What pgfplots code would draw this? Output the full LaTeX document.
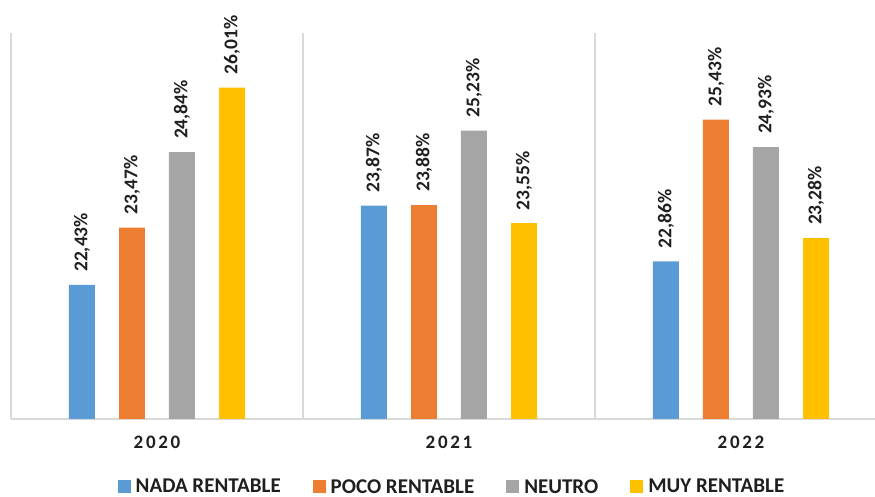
\documentclass[border=0pt]{standalone}
\usepackage{pgfplots}
\pgfplotsset{compat=1.18}
\usepackage{fontspec}
\setmainfont{Carlito}
\definecolor{cblue}{HTML}{5B9BD5}
\definecolor{corange}{HTML}{ED7D31}
\definecolor{cgray}{HTML}{A5A5A5}
\definecolor{cyellow}{HTML}{FFC000}
\definecolor{gridgray}{HTML}{D9D9D9}
\begin{document}
\begin{tikzpicture}[x=1pt,y=1pt]
\useasboundingbox (0,0) rectangle (875,497);
\begin{axis}[
  at={(11pt,78pt)}, anchor=south west,
  scale only axis, width=864pt, height=386pt,
  xmin=-0.5, xmax=2.459, ymin=20, ymax=27,
  clip=false,
  hide y axis,
  axis x line*=bottom,
  x axis line style={gridgray, line width=1.2pt, -},
  xtick={0,1,2}, xticklabels={2020,2021,2022},
  major tick length=0pt,
  xticklabel style={font=\bfseries\fontsize{19}{19}\selectfont\addfontfeature{LetterSpace=14}, yshift=-14pt, text=black!88},
  extra x ticks={-0.5,0.5,1.5}, extra x tick labels={},
  extra x tick style={grid=major, major grid style={gridgray, line width=1.2pt}},
  ybar, bar width=0.089,
  nodes near coords={\pgfmathprintnumber[fixed,fixed zerofill,precision=2,use comma,assume math mode=true]{\pgfplotspointmeta}\%},
  nodes near coords align={horizontal},
  every node near coord/.append style={rotate=90, anchor=west, font=\bfseries\fontsize{19.5}{19.5}\selectfont, text=black!88, inner xsep=13pt, inner ysep=0pt},
  legend columns=4,
  legend style={draw=none, fill=none, at={(0.5104,-0.176)}, anchor=center, font=\bfseries\fontsize{21}{21}\selectfont, text=black!88,
    inner sep=0pt,
    /tikz/every odd column/.append style={column sep=3pt},
    /tikz/every even column/.append style={column sep=30pt}},
  legend image code/.code={\fill[#1] (0pt,-6.5pt) rectangle (13pt,6.5pt);},
]
\addplot[fill=cblue, draw=none, bar shift=-0.257] coordinates {(0,22.43) (1,23.87) (2,22.86)};
\addplot[fill=corange, draw=none, bar shift=-0.0856] coordinates {(0,23.47) (1,23.88) (2,25.43)};
\addplot[fill=cgray, draw=none, bar shift=0.0856] coordinates {(0,24.84) (1,25.23) (2,24.93)};
\addplot[fill=cyellow, draw=none, bar shift=0.257] coordinates {(0,26.01) (1,23.55) (2,23.28)};
\legend{NADA RENTABLE, POCO RENTABLE, NEUTRO, MUY RENTABLE}
\end{axis}
\end{tikzpicture}
\end{document}
